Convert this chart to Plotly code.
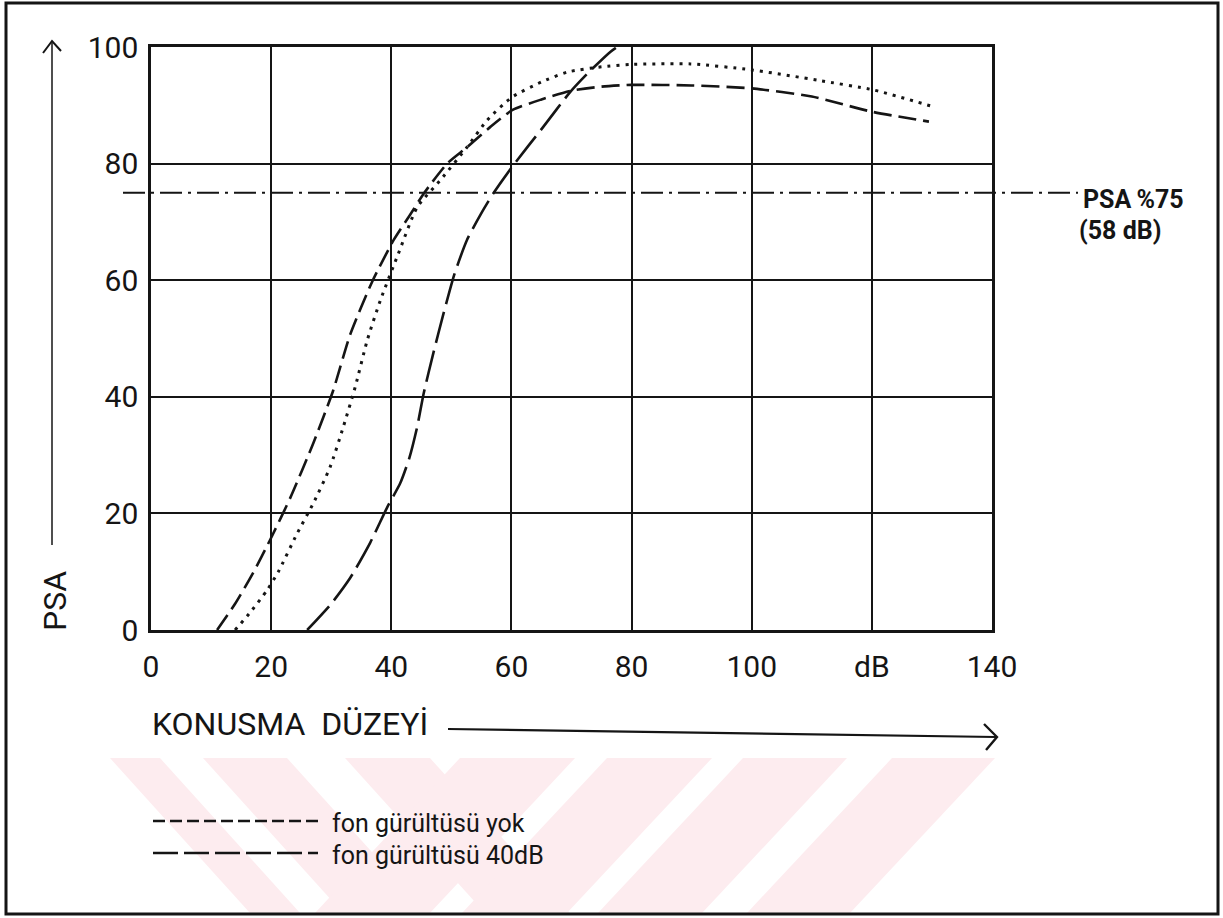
import plotly.graph_objects as go

# ---------------- data ----------------
# speech level (dB) vs PSA (%)
yok_x = [11, 14, 17, 19.8, 23.2, 27, 30.3, 33.2, 36.8, 40.4, 43, 45.5, 49.3, 52.6, 56.5, 60.2,
         65, 70, 75, 80, 90, 100, 110, 120, 129.5]
yok_y = [0, 4.5, 9.8, 15.4, 22.7, 32, 41, 50.8, 59.7, 66.9, 71, 75, 80, 82.8, 86.3, 89.2,
         91, 92.5, 93.2, 93.5, 93.4, 92.9, 91.5, 88.9, 87.2]

dot_x = [14, 16.5, 19.3, 21.2, 24.3, 27, 29.8, 32, 34, 36, 38.2, 41.2, 44.3, 48.2, 52.6, 56,
         60.1, 65, 69.3, 75, 79.8, 89.8, 99.8, 111, 120.4, 130.4]
dot_y = [0, 3, 6.8, 10, 16.5, 21.7, 27.9, 34.8, 41.7, 49.7, 56.6, 64.6, 72.5, 77.2, 82.8, 87.5,
         91.4, 94, 95.7, 96.6, 97.0, 97.1, 96.1, 94.3, 92.6, 89.7]

db40_x = [26, 30, 33.2, 36.5, 39.3, 41.5, 43, 44.3, 45.4, 47, 48.7, 50.5, 52.6, 55, 57, 60.3,
          65.3, 69.8, 73, 76.5, 77.6]
db40_y = [0, 4.5, 9, 15, 21, 25.2, 29.5, 34.8, 40.6, 47.5, 54.3, 61, 66.9, 71.5, 74.9, 79.7,
          86.3, 92.3, 95.8, 99.2, 100]

x_tickvals = [0, 20, 40, 60, 80, 100, 120, 140]
x_ticktext = ["0", "20", "40", "60", "80", "100", "dB", "140"]
y_tickvals = [0, 20, 40, 60, 80, 100]
x_range = [0, 140]
y_range = [0, 100]
psa_ref = 75
ref_label = "PSA\u2009%75"
ref_sub = "(58 dB)"
x_title = "KONUSMA\u00a0\u00a0DÜZEYİ"
y_title = "PSA"
legend_labels = ["fon gürültüsü yok", "fon gürültüsü 40dB"]

# ---------------- layout helpers ----------------
W, H = 1223, 918
ML, MR, MT, MB = 151, 231, 47, 288
PW = W - ML - MR
PH = H - MT - MB


def px(x):
    return (x - ML) / PW


def py(y):
    return (H - MB - y) / PH


INK = "#151515"
FONT = "Roboto, 'DejaVu Sans', sans-serif"

fig = go.Figure()
fig.add_trace(go.Scatter(x=yok_x, y=yok_y, mode="lines",
                         line=dict(color=INK, width=2.6, dash="18px,7px", shape="spline", smoothing=0.6),
                         showlegend=False, hoverinfo="skip"))
fig.add_trace(go.Scatter(x=dot_x, y=dot_y, mode="lines",
                         line=dict(color=INK, width=3, dash="3px,6px", shape="spline", smoothing=0.6),
                         showlegend=False, hoverinfo="skip"))
fig.add_trace(go.Scatter(x=db40_x, y=db40_y, mode="lines",
                         line=dict(color=INK, width=2.6, dash="32px,8px", shape="spline", smoothing=0.6),
                         showlegend=False, hoverinfo="skip"))

shapes = []

# watermark (faint pink stripes)
PINK = "#fdecef"
wm_top, wm_bot = 758, 913
stripes = [
    # (top_left, top_right, shift)  shift>0 : "\" ; shift<0 : "/"
    (110, 160, 140), (203, 287, 140), (345, 430, 140),
    (460, 575, -145), (607, 712, -145), (743, 847, -145), (892, 995, -145),
]
for a, b, s in stripes:
    path = "M {:.4f},{:.4f} L {:.4f},{:.4f} L {:.4f},{:.4f} L {:.4f},{:.4f} Z".format(
        px(a), py(wm_top), px(b), py(wm_top), px(b + s), py(wm_bot), px(a + s), py(wm_bot))
    shapes.append(dict(type="path", xref="paper", yref="paper", path=path,
                       fillcolor=PINK, line=dict(width=0), layer="below"))

# outer frame
shapes.append(dict(type="rect", xref="paper", yref="paper", x0=px(6), x1=px(1218), y0=py(914), y1=py(3),
                   line=dict(color=INK, width=3)))

# PSA 75% reference line (dash-dot)
ref_y = (psa_ref - y_range[0]) / (y_range[1] - y_range[0])
shapes.append(dict(type="line", xref="paper", yref="paper", x0=px(123), x1=px(1078), y0=ref_y, y1=ref_y,
                   line=dict(color=INK, width=2, dash="22px,6px,3px,6px")))

# y-axis title arrow
shapes.append(dict(type="line", xref="paper", yref="paper", x0=px(52), x1=px(52), y0=py(545), y1=py(43),
                   line=dict(color=INK, width=1.5)))
shapes.append(dict(type="path", xref="paper", yref="paper",
                   path="M {:.4f},{:.4f} L {:.4f},{:.4f} L {:.4f},{:.4f}".format(
                       px(43), py(53), px(52), py(41), px(61), py(51)),
                   line=dict(color=INK, width=2)))

# x-axis title arrow
shapes.append(dict(type="line", xref="paper", yref="paper", x0=px(448), x1=px(996), y0=py(729), y1=py(737),
                   line=dict(color=INK, width=2.2)))
shapes.append(dict(type="path", xref="paper", yref="paper",
                   path="M {:.4f},{:.4f} L {:.4f},{:.4f} L {:.4f},{:.4f}".format(
                       px(984), py(724), px(997), py(737), px(986), py(750)),
                   line=dict(color=INK, width=2.4)))

# legend sample lines
shapes.append(dict(type="line", xref="paper", yref="paper", x0=px(153), x1=px(320), y0=py(821), y1=py(821),
                   line=dict(color=INK, width=2.4, dash="12px,5px")))
shapes.append(dict(type="line", xref="paper", yref="paper", x0=px(153), x1=px(318), y0=py(853), y1=py(853),
                   line=dict(color=INK, width=2.4, dash="25px,6px")))

annotations = [
    dict(text=y_title, xref="paper", yref="paper", x=px(55), y=py(601), textangle=-90,
         showarrow=False, xanchor="center", yanchor="middle",
         font=dict(family=FONT, size=32, color=INK)),
    dict(text=x_title, xref="paper", yref="paper", x=px(150), y=py(724),
         showarrow=False, xanchor="left", yanchor="middle",
         font=dict(family=FONT, size=32, color=INK)),
    dict(text="<b>" + ref_label + "</b>", xref="paper", yref="paper", x=px(1081), y=py(199),
         showarrow=False, xanchor="left", yanchor="middle",
         font=dict(family=FONT, size=25, color=INK)),
    dict(text="<b>" + ref_sub + "</b>", xref="paper", yref="paper", x=px(1077), y=py(231),
         showarrow=False, xanchor="left", yanchor="middle",
         font=dict(family=FONT, size=25, color=INK)),
    dict(text=legend_labels[0], xref="paper", yref="paper", x=px(330), y=py(823),
         showarrow=False, xanchor="left", yanchor="middle",
         font=dict(family=FONT, size=25, color=INK)),
    dict(text=legend_labels[1], xref="paper", yref="paper", x=px(330), y=py(856),
         showarrow=False, xanchor="left", yanchor="middle",
         font=dict(family=FONT, size=25, color=INK)),
]

axis_common = dict(showgrid=True, gridcolor=INK, gridwidth=2, showline=True, linecolor=INK,
                   linewidth=2.5, mirror=True, zeroline=False, ticks="outside",
                   tickcolor="rgba(0,0,0,0)", tickfont=dict(family=FONT, size=30, color=INK))

fig.update_layout(
    width=W, height=H,
    margin=dict(l=ML, r=MR, t=MT, b=MB, pad=0),
    paper_bgcolor="white", plot_bgcolor="white",
    showlegend=False,
    xaxis=dict(range=x_range, tickvals=x_tickvals, ticktext=x_ticktext, ticklen=8, **axis_common),
    yaxis=dict(range=y_range, tickvals=y_tickvals, ticklen=4, **axis_common),
    shapes=shapes,
    annotations=annotations,
)

fig.write_html("out.html")
